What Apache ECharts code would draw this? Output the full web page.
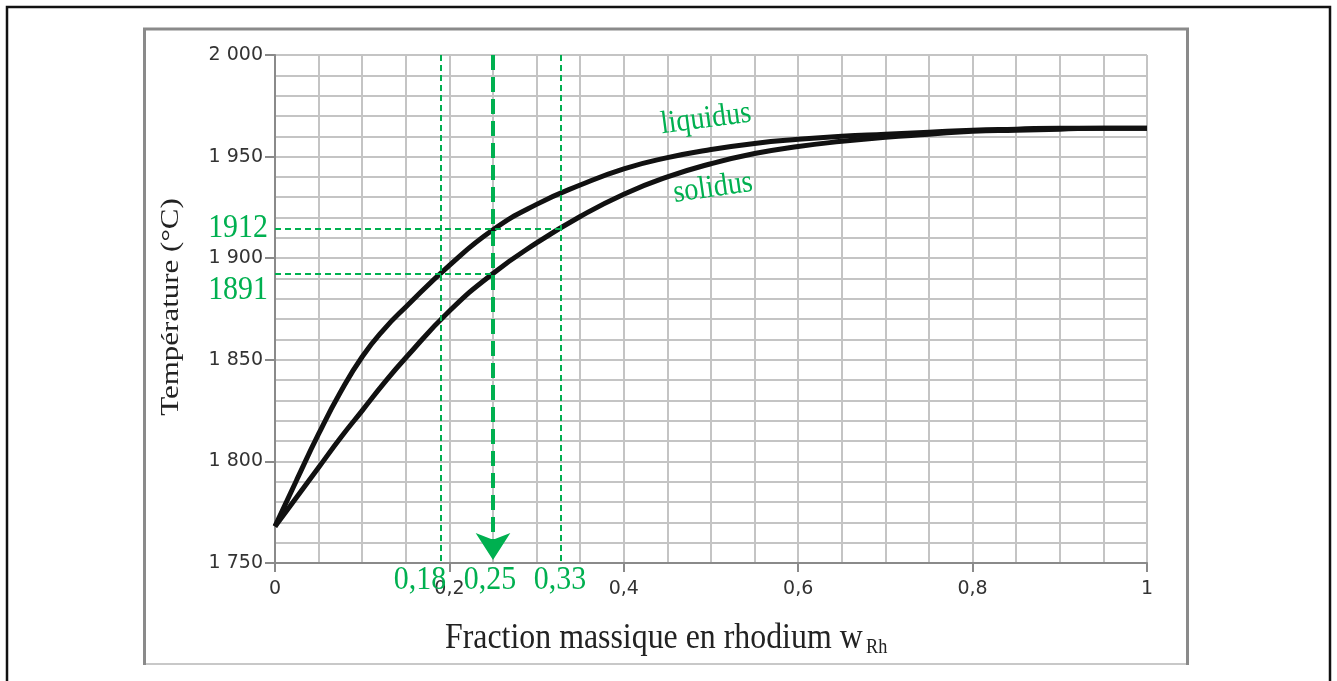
<!DOCTYPE html>
<html><head><meta charset="utf-8">
<script src="https://cdn.jsdelivr.net/npm/echarts@6/dist/echarts.min.js"></script>
<style>html,body{margin:0;padding:0;background:#fff}#c{width:1337px;height:681px}</style>
</head><body><div id="c"></div>
<script>
// mass fraction of rhodium
const wRh      = [0, 0.025, 0.05, 0.075, 0.1, 0.125, 0.15, 0.2, 0.25, 0.3, 0.35, 0.4, 0.45, 0.5, 0.55, 0.6, 0.65, 0.7, 0.75, 0.8, 0.85, 0.9, 0.95, 1];
const liquidus = [1768, 1791, 1813.5, 1834, 1851.5, 1865, 1876, 1896.5, 1914, 1926.5, 1936, 1944, 1949.5, 1953.5, 1956.5, 1958.5, 1960, 1961, 1962, 1963, 1963.5, 1964, 1964, 1964];
const solidus  = [1768, 1782.5, 1797, 1811.5, 1825, 1838.5, 1851, 1874, 1892.5, 1907.5, 1920.5, 1931.5, 1940, 1946.5, 1951.5, 1955, 1957.5, 1959.5, 1961, 1962.5, 1963, 1963.5, 1964, 1964];
// tick labels
const xTickLabels = {'0':'0','0.2':'0,2','0.4':'0,4','0.6':'0,6','0.8':'0,8','1':'1'};
const yTickLabels = {'1750':'1 750','1800':'1 800','1850':'1 850','1900':'1 900','1950':'1 950','2000':'2 000'};
// reading lines (as drawn) and their labels
const readW = [0.19, 0.25, 0.328];
const readT = [1914.5, 1892.5];
const readWLabels = ['0,18', '0,25', '0,33'];
const readTLabels = ['1912', '1891'];

const green = '#00b050';
const pair = (xs, ys) => xs.map((x, i) => [x, ys[i]]);
const gridColor = '#c4c4c4';
const axisColor = '#8a8a8a';
const thin = {color: green, width: 2, type: [6, 4]};
const thick = {color: green, width: 4, type: [15, 7]};

const chart = echarts.init(document.getElementById('c'), null, {renderer: 'canvas'});
const option = {
  animation: false,
  grid: {left: 275, right: 190, top: 55, bottom: 118},
  xAxis: {
    type: 'value', min: 0, max: 1, interval: 0.2,
    axisLine: {show: true, lineStyle: {color: axisColor, width: 2}},
    axisTick: {show: true, length: 9, lineStyle: {color: axisColor, width: 2}},
    axisLabel: {margin: 17, fontFamily: 'DejaVu Sans', fontSize: 19, color: '#333',
      formatter: v => xTickLabels[String(Number(v.toFixed(2)))] || ''},
    splitLine: {show: true, lineStyle: {color: gridColor, width: 2}},
    minorTick: {show: false, splitNumber: 4},
    minorSplitLine: {show: true, lineStyle: {color: gridColor, width: 2}}
  },
  yAxis: {
    type: 'value', min: 1750, max: 2000, interval: 50,
    axisLine: {show: true, lineStyle: {color: axisColor, width: 2}},
    axisTick: {show: true, length: 10, lineStyle: {color: axisColor, width: 2}},
    axisLabel: {margin: 12, fontFamily: 'DejaVu Sans', fontSize: 19, color: '#333',
      formatter: v => yTickLabels[String(Math.round(v))] || ''},
    splitLine: {show: true, lineStyle: {color: gridColor, width: 2}},
    minorTick: {show: false, splitNumber: 5},
    minorSplitLine: {show: true, lineStyle: {color: gridColor, width: 2}}
  },
  series: [
    {name: 'liquidus', type: 'line', data: pair(wRh, liquidus), smooth: 0.5,
      symbol: 'none', lineStyle: {color: '#111', width: 5}, z: 3},
    {name: 'solidus', type: 'line', data: pair(wRh, solidus), smooth: 0.5,
      symbol: 'none', lineStyle: {color: '#111', width: 5}, z: 3},
    {type: 'line', data: [], clip: false, z: 5, silent: true,
      markLine: {
        silent: true, animation: false, symbol: ['none', 'none'], label: {show: false},
        data: [
          [{coord: [readW[0], 2000], lineStyle: thin}, {coord: [readW[0], 1750]}],
          [{coord: [readW[2], 2000], lineStyle: thin}, {coord: [readW[2], 1750]}],
          [{coord: [0, readT[0]], lineStyle: thin}, {coord: [readW[2], readT[0]]}],
          [{coord: [0, readT[1]], lineStyle: thin}, {coord: [readW[1], readT[1]]}],
          [{coord: [readW[1], 2000], lineStyle: thick, symbol: 'none'},
           {coord: [readW[1], 1751.5], symbol: 'arrow', symbolSize: [26, 27]}]
        ]
      }}
  ],
  graphic: [
    // outer frame
    {type: 'polyline', z: -10, shape: {points: [[7, 681], [7, 7], [1330, 7], [1330, 681]]},
      style: {stroke: '#111', lineWidth: 2.5, fill: null}},
    // inner frame
    {type: 'line', z: -10, shape: {x1: 144, y1: 664, x2: 1188, y2: 664}, style: {stroke: '#c8c8c8', lineWidth: 2}},
    {type: 'polyline', z: -10, shape: {points: [[144.5, 665], [144.5, 29], [1187.5, 29], [1187.5, 665]]},
      style: {stroke: '#8a8a8a', lineWidth: 3, fill: null}},
    // axis titles
    {type: 'text', x: 171, y: 307, rotation: Math.PI / 2, scaleY: 0.84,
      style: {text: 'Température (°C)', fontFamily: 'Liberation Serif', fontSize: 31, fill: '#222', align: 'center', verticalAlign: 'middle'}},
    {type: 'text', x: 445, y: 639, scaleX: 0.885,
      style: {text: 'Fraction massique en rhodium w', fontFamily: 'Liberation Serif', fontSize: 36, fill: '#222', align: 'left', verticalAlign: 'middle'}},
    {type: 'text', x: 866, y: 647, scaleX: 0.87,
      style: {text: 'Rh', fontFamily: 'Liberation Serif', fontSize: 21, fill: '#222', align: 'left', verticalAlign: 'middle'}},
    // green reading labels
    {type: 'text', x: 268, y: 227.6, scaleX: 0.88, z: 10,
      style: {text: readTLabels[0], fontFamily: 'Liberation Serif', fontSize: 34, fill: green, align: 'right', verticalAlign: 'middle'}},
    {type: 'text', x: 268, y: 289.6, scaleX: 0.88, z: 10,
      style: {text: readTLabels[1], fontFamily: 'Liberation Serif', fontSize: 34, fill: green, align: 'right', verticalAlign: 'middle'}},
    {type: 'text', x: 420, y: 579.6, scaleX: 0.88, z: 10,
      style: {text: readWLabels[0], fontFamily: 'Liberation Serif', fontSize: 34, fill: green, align: 'center', verticalAlign: 'middle'}},
    {type: 'text', x: 490, y: 579.6, scaleX: 0.88, z: 10,
      style: {text: readWLabels[1], fontFamily: 'Liberation Serif', fontSize: 34, fill: green, align: 'center', verticalAlign: 'middle'}},
    {type: 'text', x: 560, y: 579.6, scaleX: 0.88, z: 10,
      style: {text: readWLabels[2], fontFamily: 'Liberation Serif', fontSize: 34, fill: green, align: 'center', verticalAlign: 'middle'}},
    // curve names
    {type: 'text', x: 706, y: 119, rotation: 0.13, scaleX: 0.88, z: 10,
      style: {text: 'liquidus', fontFamily: 'Liberation Serif', fontSize: 32, fill: green, align: 'center', verticalAlign: 'middle'}},
    {type: 'text', x: 713, y: 188, rotation: 0.14, scaleX: 0.88, z: 10,
      style: {text: 'solidus', fontFamily: 'Liberation Serif', fontSize: 32, fill: green, align: 'center', verticalAlign: 'middle'}}
  ]
};
chart.setOption(option);
</script>
</body></html>
